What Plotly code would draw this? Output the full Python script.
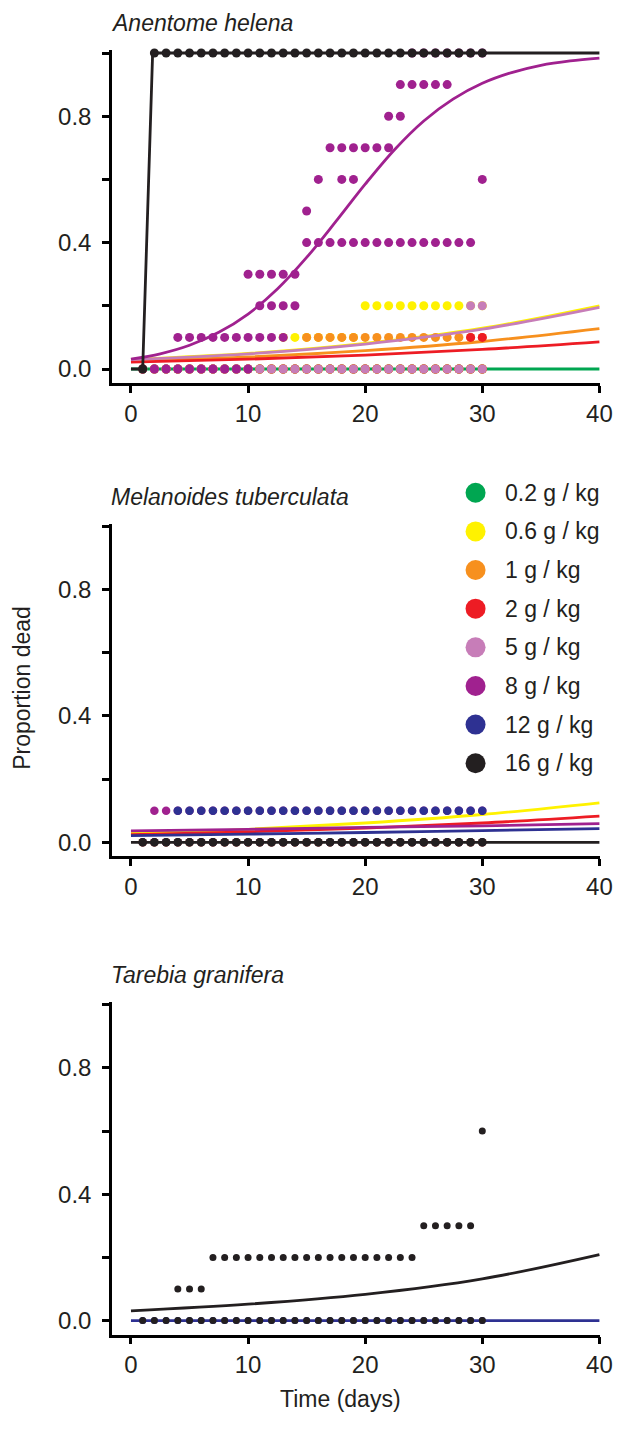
import plotly.graph_objects as go

# ---------------- data ----------------
SPECIES = ["Anentome helena", "Melanoides tuberculata", "Tarebia granifera"]
DOSE_LABELS = ["0.2 g / kg", "0.6 g / kg", "1 g / kg", "2 g / kg",
               "5 g / kg", "8 g / kg", "12 g / kg", "16 g / kg"]
DOSE_COLORS = ["#00A651", "#FFF200", "#F7901E", "#ED1C24",
               "#C77DB8", "#A0218F", "#2E3192", "#231F20"]

X_TICK_VALUES = [0, 10, 20, 30, 40]
X_TICK_TEXT = ["0", "10", "20", "30", "40"]
Y_TICK_VALUES = [0.0, 0.2, 0.4, 0.6, 0.8, 1.0]
Y_TICK_TEXT = ["0.0", "", "0.4", "", "0.8", ""]

DAYS_1_30 = [1, 2, 3, 4, 5, 6, 7, 8, 9, 10, 11, 12, 13, 14, 15,
             16, 17, 18, 19, 20, 21, 22, 23, 24, 25, 26, 27, 28, 29, 30]

# observed proportion dead: rows of (proportion, days observed)
AH_OBS_0_2 = [(0.0, DAYS_1_30)]
AH_OBS_0_6 = [(0.0, DAYS_1_30),
              (0.1, [13, 14, 15, 16, 17, 18, 19]),
              (0.2, [20, 21, 22, 23, 24, 25, 26, 27, 28, 29, 30])]
AH_OBS_1 = [(0.0, DAYS_1_30),
            (0.1, [15, 16, 17, 18, 19, 20, 21, 22, 23, 24, 25, 26, 27, 28, 29, 30])]
AH_OBS_2 = [(0.0, DAYS_1_30), (0.1, [29, 30])]
AH_OBS_5 = [(0.0, DAYS_1_30), (0.2, [29, 30])]
AH_OBS_8 = [(0.0, [1, 2, 3, 4, 5, 6, 7, 8, 9, 10]),
            (0.1, [4, 5, 6, 7, 8, 9, 10, 11, 12, 13]),
            (0.2, [11, 12, 13, 14]),
            (0.3, [10, 11, 12, 13, 14]),
            (0.4, [15, 16, 17, 18, 19, 20, 21, 22, 23, 24, 25, 26, 27, 28, 29]),
            (0.5, [15]),
            (0.6, [16, 18, 19, 30]),
            (0.7, [17, 18, 19, 20, 21, 22]),
            (0.8, [22, 23]),
            (0.9, [23, 24, 25, 26, 27]),
            (1.0, [24, 25, 26, 27, 28, 29, 30])]
AH_OBS_16 = [(0.0, [1]),
             (1.0, [2, 3, 4, 5, 6, 7, 8, 9, 10, 11, 12, 13, 14, 15, 16,
                    17, 18, 19, 20, 21, 22, 23, 24, 25, 26, 27, 28, 29, 30])]

MT_OBS_0_6 = [(0.0, DAYS_1_30)]
MT_OBS_2 = [(0.0, DAYS_1_30)]
MT_OBS_8 = [(0.1, [2, 3, 4, 5, 6, 7, 8, 9, 10, 11, 12, 13, 14, 15, 16,
                   17, 18, 19, 20, 21, 22, 23, 24, 25, 26, 27, 28, 29, 30])]
MT_OBS_12 = [(0.0, DAYS_1_30),
             (0.1, [4, 5, 6, 7, 8, 9, 10, 11, 12, 13, 14, 15, 16, 17,
                    18, 19, 20, 21, 22, 23, 24, 25, 26, 27, 28, 29, 30])]
MT_OBS_16 = [(0.0, DAYS_1_30)]

TG_OBS_12 = [(0.0, DAYS_1_30)]
TG_OBS_16 = [(0.0, DAYS_1_30),
             (0.1, [4, 5, 6]),
             (0.2, [7, 8, 9, 10, 11, 12, 13, 14, 15, 16, 17, 18, 19, 20, 21, 22, 23, 24]),
             (0.3, [25, 26, 27, 28, 29]),
             (0.6, [30])]

# fitted curves, values
FIT_DAYS = [0, 10, 20, 30, 40]
FIT_DAYS_FINE = [0, 2.5, 5, 7.5, 10, 12.5, 15, 17.5, 20,
                 22.5, 25, 27.5, 30, 32.5, 35, 37.5, 40]
AH_FIT_0_2 = [0.0, 0.0, 0.0, 0.0, 0.0]
AH_FIT_0_6 = [0.030, 0.049, 0.081, 0.129, 0.200]
AH_FIT_1 = [0.025, 0.038, 0.058, 0.087, 0.128]
AH_FIT_2 = [0.022, 0.031, 0.044, 0.062, 0.086]
AH_FIT_5 = [0.030, 0.048, 0.079, 0.126, 0.195]
AH_FIT_8 = [0.031, 0.048, 0.075, 0.116, 0.174, 0.253, 0.353, 0.467, 0.585,
            0.694, 0.785, 0.854, 0.904, 0.938, 0.961, 0.975, 0.984]
AH_FIT_16_DAYS = [0, 1, 1.85, 40]
AH_FIT_16 = [0.0, 0.0, 1.0, 1.0]

MT_FIT_0_6 = [0.028, 0.041, 0.061, 0.088, 0.125]
MT_FIT_2 = [0.024, 0.033, 0.045, 0.061, 0.083]
MT_FIT_8 = [0.036, 0.041, 0.047, 0.052, 0.059]
MT_FIT_12 = [0.021, 0.026, 0.031, 0.037, 0.043]
MT_FIT_16 = [0.0, 0.0, 0.0, 0.0, 0.0]

TG_FIT_12 = [0.0, 0.0, 0.0, 0.0, 0.0]
TG_FIT_16 = [0.031, 0.052, 0.083, 0.132, 0.209]

# per panel: (dose index, observations, fit days, fit values, smooth?)
PANELS = [
    [(0, AH_OBS_0_2, FIT_DAYS, AH_FIT_0_2, False),
     (1, AH_OBS_0_6, FIT_DAYS, AH_FIT_0_6, True),
     (2, AH_OBS_1, FIT_DAYS, AH_FIT_1, True),
     (3, AH_OBS_2, FIT_DAYS, AH_FIT_2, True),
     (4, AH_OBS_5, FIT_DAYS, AH_FIT_5, True),
     (5, AH_OBS_8, FIT_DAYS_FINE, AH_FIT_8, True),
     (7, AH_OBS_16, AH_FIT_16_DAYS, AH_FIT_16, False)],
    [(1, MT_OBS_0_6, FIT_DAYS, MT_FIT_0_6, True),
     (3, MT_OBS_2, FIT_DAYS, MT_FIT_2, True),
     (5, MT_OBS_8, FIT_DAYS, MT_FIT_8, True),
     (6, MT_OBS_12, FIT_DAYS, MT_FIT_12, True),
     (7, MT_OBS_16, FIT_DAYS, MT_FIT_16, False)],
    [(6, TG_OBS_12, FIT_DAYS, TG_FIT_12, False),
     (7, TG_OBS_16, FIT_DAYS, TG_FIT_16, True)],
]
MARKER_SIZES = [9, 8.5, 7]

# ---------------- layout geometry ----------------
# positions measured in page pixels; the page body adds an 8 px offset
OFF = 8
PAGE_W, PAGE_H = 625, 1441
FIG_W, FIG_H = PAGE_W - OFF, PAGE_H - OFF
AXIS_X_PAGE, RIGHT_X_PAGE = 112, 610
ML = AXIS_X_PAGE - OFF
MR = FIG_W - (RIGHT_X_PAGE - OFF)
PX_PER_UNIT = 316.0
ZERO_PAGE = [369.0, 842.3, 1320.6]
BELOW_ZERO = 14.0
Y_RANGE = [-BELOW_ZERO / PX_PER_UNIT, 1.008]
X_RANGE = [-1.62, 40.05]
MT = int(ZERO_PAGE[0] - OFF - Y_RANGE[1] * PX_PER_UNIT)
MB = FIG_H - int(round(ZERO_PAGE[2] - OFF + BELOW_ZERO))
PLOT_H = FIG_H - MT - MB
PLOT_W = FIG_W - ML - MR
FONT = "Arial, Liberation Sans, Helvetica, sans-serif"
TXT = "#231F20"


def ypaper(page_px):
    return (FIG_H - MB - (page_px - OFF)) / PLOT_H


def xpaper(page_px):
    return (page_px - OFF - ML) / PLOT_W


fig = go.Figure()
layout_axes = {}
annotations = []

for p, series in enumerate(PANELS):
    xa = "x" if p == 0 else f"x{p + 1}"
    ya = "y" if p == 0 else f"y{p + 1}"
    for dose, obs, fdays, fvals, smooth in series:
        col = DOSE_COLORS[dose]
        xs, ys = [], []
        for val, days in obs:
            xs += days
            ys += [val] * len(days)
        if xs:
            fig.add_trace(go.Scatter(
                x=xs, y=ys, mode="markers", xaxis=xa, yaxis=ya,
                marker=dict(color=col, size=MARKER_SIZES[p], line=dict(width=0)),
                cliponaxis=False, showlegend=False, hoverinfo="skip"))
        fig.add_trace(go.Scatter(
            x=fdays, y=fvals, mode="lines", xaxis=xa, yaxis=ya,
            line=dict(color=col, width=2.8,
                      shape="spline" if smooth else "linear", smoothing=1.0),
            cliponaxis=False, showlegend=False, hoverinfo="skip"))

    zero = ZERO_PAGE[p]
    top_px = zero - Y_RANGE[1] * PX_PER_UNIT
    bot_px = zero - Y_RANGE[0] * PX_PER_UNIT
    dom = [max(0.0, ypaper(bot_px)), min(1.0, ypaper(top_px))]
    key = "" if p == 0 else str(p + 1)
    layout_axes["xaxis" + key] = dict(
        domain=[0, 1], anchor=ya, range=X_RANGE, showgrid=False, zeroline=False,
        showline=True, linecolor="#000", linewidth=2.5, ticks="outside",
        ticklen=7, tickwidth=2.5, tickcolor="#000", tickvals=X_TICK_VALUES,
        ticktext=X_TICK_TEXT, tickfont=dict(family=FONT, size=24, color=TXT),
        ticklabelstandoff=0)
    layout_axes["yaxis" + key] = dict(
        domain=dom, anchor=xa, range=Y_RANGE, showgrid=False, zeroline=False,
        showline=True, linecolor="#000", linewidth=2.5, ticks="outside",
        ticklen=7, tickwidth=2.5, tickcolor="#000", tickvals=Y_TICK_VALUES,
        ticktext=Y_TICK_TEXT, tickfont=dict(family=FONT, size=24, color=TXT),
        ticklabelstandoff=6)
    annotations.append(dict(
        text=SPECIES[p], xref="paper", yref="paper", x=0, y=dom[1],
        xanchor="left", yanchor="middle", yshift=27, xshift=-3, showarrow=False,
        font=dict(family=FONT, size=23, color=TXT, style="italic")))

# legend drawn on its own small axis
LEG_TOP, LEG_BOT = 480.0, 776.0
LEG_LEFT = 470.0
layout_axes["xaxis4"] = dict(domain=[xpaper(LEG_LEFT), 1], anchor="y4",
                             range=[-13, RIGHT_X_PAGE - LEG_LEFT - 13], visible=False)
layout_axes["yaxis4"] = dict(domain=[ypaper(LEG_BOT), ypaper(LEG_TOP)], anchor="x4",
                             range=[7.33, -0.33], visible=False)
fig.add_trace(go.Scatter(
    x=[0] * len(DOSE_LABELS), y=list(range(len(DOSE_LABELS))), mode="markers",
    xaxis="x4", yaxis="y4", marker=dict(color=DOSE_COLORS, size=20),
    cliponaxis=False, showlegend=False, hoverinfo="skip"))
for i, lab in enumerate(DOSE_LABELS):
    annotations.append(dict(
        text=lab, xref="x4", yref="y4", x=28, y=i, xanchor="left",
        yanchor="middle", showarrow=False,
        font=dict(family=FONT, size=23, color=TXT)))

annotations.append(dict(
    text="Time (days)", xref="paper", yref="paper", x=xpaper(345), y=0,
    xanchor="center", yanchor="middle", yshift=-64, showarrow=False,
    font=dict(family=FONT, size=23, color=TXT)))
annotations.append(dict(
    text="Proportion dead", xref="paper", yref="paper", x=xpaper(20),
    y=ypaper(688), xanchor="center", yanchor="middle", textangle=-90,
    showarrow=False, font=dict(family=FONT, size=23, color=TXT)))

fig.update_layout(
    width=FIG_W, height=FIG_H, margin=dict(l=ML, r=MR, t=MT, b=MB),
    paper_bgcolor="white", plot_bgcolor="white", showlegend=False,
    annotations=annotations, **layout_axes)

fig.write_html("out.html")
